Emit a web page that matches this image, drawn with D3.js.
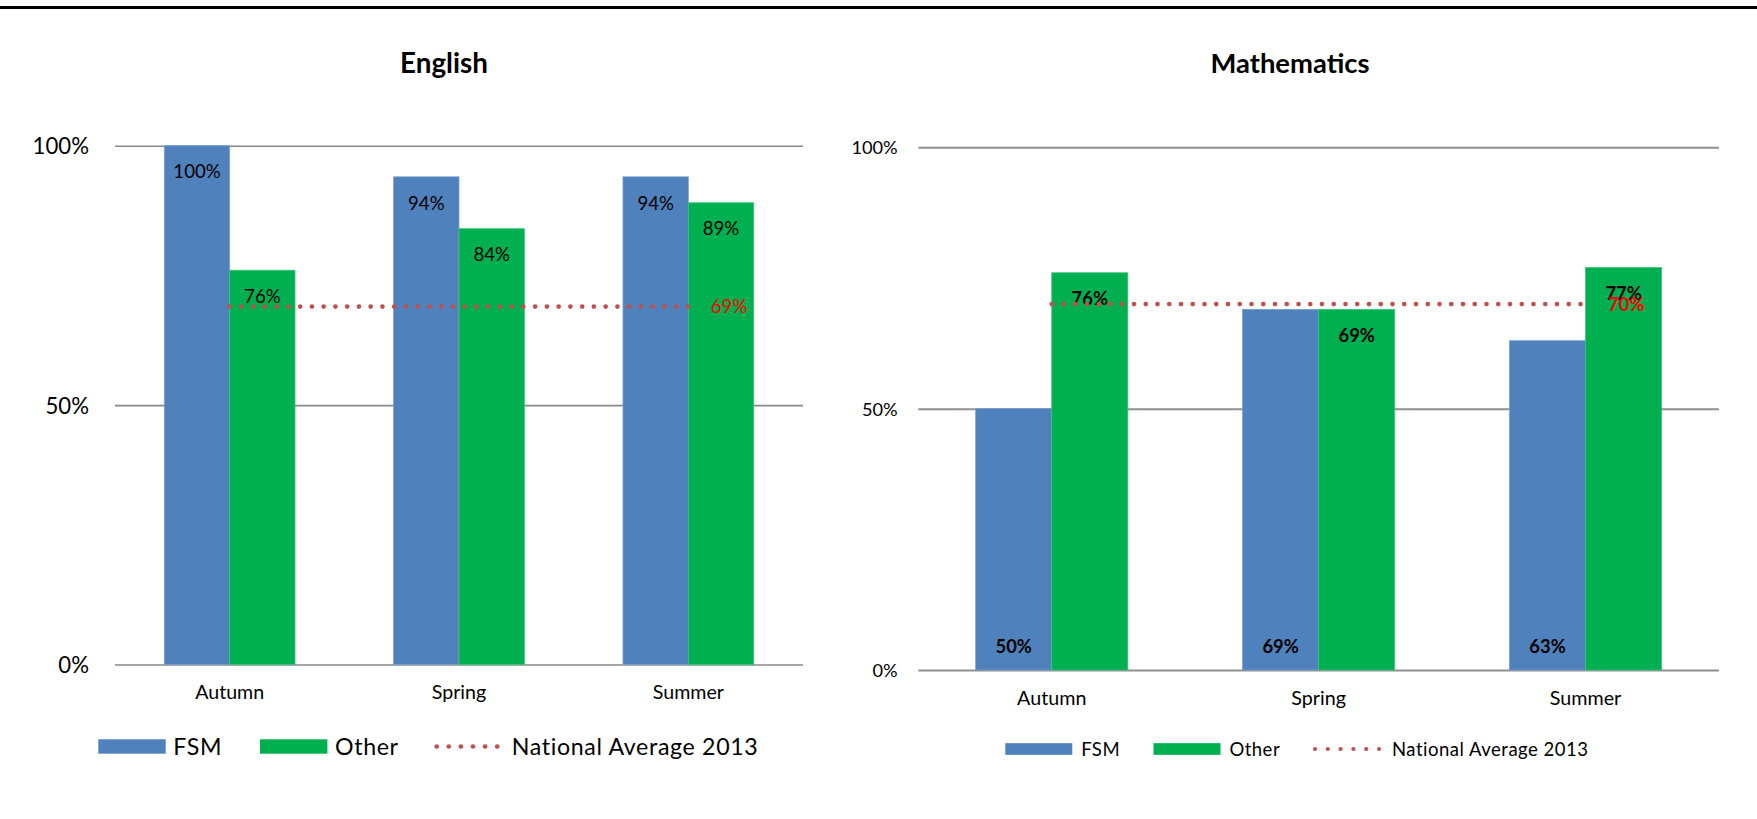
<!DOCTYPE html>
<html><head><meta charset="utf-8">
<script src="https://cdn.jsdelivr.net/npm/d3@7"></script>
<style>html,body{margin:0;padding:0;background:#fff;} svg{display:block;font-family:Lato,"Open Sans",sans-serif;}</style>
</head><body><svg id="c" width="1757" height="819"></svg>
<script>
// ---------- data ----------
const categories = ["Autumn", "Spring", "Summer"];
const seriesNames = ["FSM", "Other"];
const nationalName = "National Average 2013";
const englishFSM = [100, 94, 94];
const englishOther = [76, 84, 89];
const englishNational = [69, 69, 69];
const mathFSM = [50, 69, 63];
const mathOther = [76, 69, 77];
const mathNational = [70, 70, 70];
const yTicks = [0, 50, 100];
const titles = ["English", "Mathematics"];

const colors = {FSM: "#4F81BD", Other: "#00B050", national: "#C0504D", natLabel: "#FF0000"};
const CAP = 0.36; // half cap-height ratio for vertical centring

const svg = d3.select("#c");
svg.append("rect").attr("x", 0).attr("y", 6).attr("width", 1757).attr("height", 3).attr("fill", "#000");

function drawChart(o) {
  const g = svg.append("g");
  const x0 = d3.scaleBand().domain(categories).range([o.left, o.right]).paddingInner(0.43).paddingOuter(0.215);
  const x1 = d3.scaleBand().domain(seriesNames).range([0, x0.bandwidth()]);
  const y = d3.scaleLinear().domain([0, 100]).range([o.bottom, o.top]);

  // title
  g.append("text").attr("x", o.titleX).attr("y", o.titleY).attr("text-anchor", "middle")
    .attr("font-weight", "bold").attr("font-size", o.titleSize).attr("fill", "#000").text(o.title);

  // y axis with gridlines
  const ya = g.append("g").attr("transform", `translate(${o.left},0)`)
    .call(d3.axisLeft(y).tickValues(yTicks).tickSize(-(o.right - o.left)).tickPadding(o.yPad).tickFormat(d => d + "%"));
  ya.select(".domain").remove();
  ya.selectAll(".tick line").attr("stroke", o.gridColor).attr("stroke-width", o.gridWidth);
  ya.selectAll(".tick text").attr("font-size", o.ySize).attr("font-family", "Lato").attr("fill", "#000").attr("dy", CAP + "em");

  // bars
  const rows = categories.map((c, i) => ({cat: c, FSM: o.fsm[i], Other: o.other[i], nat: o.nat[i]}));
  const bars = [];
  rows.forEach(r => seriesNames.forEach(s => bars.push({cat: r.cat, s, v: r[s]})));
  g.selectAll("rect.bar").data(bars).join("rect").attr("class", "bar")
    .attr("x", d => x0(d.cat) + x1(d.s)).attr("width", x1.bandwidth())
    .attr("y", d => y(d.v)).attr("height", d => y(0) - y(d.v))
    .attr("fill", d => colors[d.s]).attr("stroke", d => d.s === "FSM" ? "#7a9fcf" : "#3cc47a").attr("stroke-width", 0.8);

  // category axis
  const xa = g.append("g").attr("transform", `translate(0,${o.bottom})`)
    .call(d3.axisBottom(x0).tickSize(0));
  xa.select(".domain").remove();
  xa.selectAll(".tick text").attr("font-size", o.catSize).attr("font-family", "Lato").attr("fill", "#000")
    .attr("dy", null).attr("y", o.catBaseline - o.bottom);

  // bar value labels
  g.selectAll("text.val").data(bars).join("text").attr("class", "val")
    .attr("x", d => x0(d.cat) + x1(d.s) + x1.bandwidth() / 2)
    .attr("y", d => {
      const pos = o.pos[d.s];
      const cy = pos === "base" ? y(0) - 23.3 : y(d.v) + 26;
      return cy + CAP * o.valSize;
    })
    .attr("text-anchor", "middle").attr("font-size", o.valSize)
    .attr("font-weight", o.valBold ? "bold" : "normal").attr("fill", "#000")
    .text(d => d.v + "%");

  // national average dotted line
  const line = d3.line().x(d => x0(d.cat) + x0.bandwidth() / 2).y(d => y(d.nat));
  g.append("path").datum(rows).attr("d", line).attr("fill", "none")
    .attr("stroke", colors.national).attr("stroke-width", 4.7).attr("stroke-linecap", "round")
    .attr("stroke-dasharray", "0 11.75");
  const last = rows[rows.length - 1];
  g.append("text").attr("x", x0(last.cat) + x0.bandwidth() / 2 + 22.5)
    .attr("y", y(last.nat) + CAP * o.valSize).attr("font-size", o.valSize)
    .attr("font-weight", o.valBold ? "bold" : "normal").attr("fill", colors.natLabel)
    .text(last.nat + "%");

  // legend
  const L = o.legend;
  seriesNames.forEach((s, i) => {
    g.append("rect").attr("x", L.rectX[i]).attr("y", L.cy - L.rh / 2).attr("width", L.rw).attr("height", L.rh).attr("fill", colors[s]);
    g.append("text").attr("x", L.textX[i]).attr("y", L.cy + CAP * L.size).attr("font-size", L.size)
      .attr("letter-spacing", L.ls).attr("fill", "#000").text(s);
  });
  const dots = d3.range(6).map(k => L.dotX + k * L.dotStep);
  g.selectAll("circle.ld").data(dots).join("circle").attr("class", "ld")
    .attr("cx", d => d).attr("cy", L.cy).attr("r", L.r).attr("fill", colors.national);
  g.append("text").attr("x", L.natX).attr("y", L.cy + CAP * L.size).attr("font-size", L.size)
    .attr("letter-spacing", L.ls).attr("fill", "#000").text(nationalName);
}

drawChart({
  title: titles[0], titleX: 444, titleY: 73, titleSize: 27.8,
  fsm: englishFSM, other: englishOther, nat: englishNational,
  left: 115, right: 803, top: 145.7, bottom: 664.5,
  gridColor: "#898989", gridWidth: 1.6,
  ySize: 22.2, yPad: 26, catSize: 19.6, catBaseline: 699,
  valSize: 18.6, valBold: false, pos: {FSM: "end", Other: "end"},
  legend: {cy: 746.5, size: 23.2, ls: 0.65, rectX: [98.3, 260], rw: 67.4, rh: 14.4, textX: [173.3, 335],
           dotX: 436.7, dotStep: 12.1, r: 2.35, natX: 511.7}
});

drawChart({
  title: titles[1], titleX: 1290, titleY: 73, titleSize: 27.4,
  fsm: mathFSM, other: mathOther, nat: mathNational,
  left: 918.3, right: 1719, top: 147.3, bottom: 670,
  gridColor: "#8f8f8f", gridWidth: 2,
  ySize: 18.2, yPad: 20.6, catSize: 19.7, catBaseline: 705,
  valSize: 18.4, valBold: true, pos: {FSM: "base", Other: "end"},
  legend: {cy: 749, size: 18.5, ls: 0.5, rectX: [1005.3, 1153.5], rw: 67, rh: 11.7, textX: [1081.2, 1229.4],
           dotX: 1315, dotStep: 12.8, r: 2.1, natX: 1392}
});
</script>
</body></html>
